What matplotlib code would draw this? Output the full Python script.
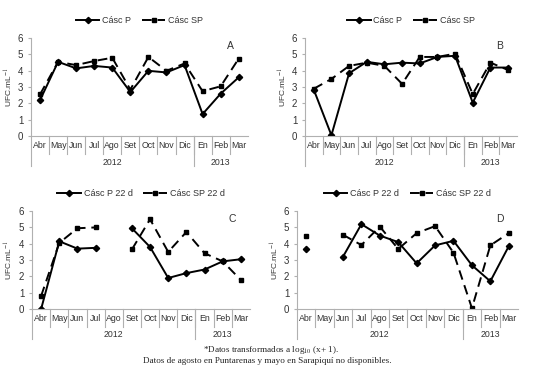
import numpy as np
import matplotlib.pyplot as plt

plt.rcParams['font.family'] = ['Liberation Sans', 'DejaVu Sans']
plt.rcParams['mathtext.fontset'] = 'stix'

months = ['Abr', 'May', 'Jun', 'Jul', 'Ago', 'Set', 'Oct', 'Nov', 'Dic', 'En', 'Feb', 'Mar']
years = ['2012', '2013']
nan = np.nan

a_p = [2.2, 4.55, 4.15, 4.3, 4.2, 2.7, 4.0, 3.9, 4.35, 1.35, 2.6, 3.6]
a_sp = [2.55, 4.55, 4.35, 4.6, 4.8, 2.85, 4.85, 4.0, 4.45, 2.75, 3.05, 4.75]

b_p = [2.85, 0.05, 3.85, 4.55, 4.4, 4.5, 4.45, 4.85, 4.92, 2.05, 4.2, 4.2]
b_sp = [2.9, 3.5, 4.3, 4.5, 4.3, 3.2, 4.85, 4.85, 5.05, 2.58, 4.5, 4.05]

c_p = [0.0, 4.15, 3.7, 3.75, nan, 4.95, 3.8, 1.9, 2.2, 2.42, 2.92, 3.05]
c_sp = [0.8, 4.05, 4.95, 5.0, nan, 3.65, 5.5, 3.5, 4.72, 3.42, 2.92, 1.78]

d_p = [3.65, nan, 3.2, 5.2, 4.5, 4.1, 2.8, 3.9, 4.18, 2.68, 1.7, 3.85]
d_sp = [4.5, nan, 4.55, 3.92, 5.05, 3.68, 4.65, 5.08, 3.45, 0.05, 3.9, 4.65]

txt = '#333333'
grid = '#b0b0b0'
W = 534


def panel(ax, p, sp, letter, lab_p, lab_sp, left_px):
    x = np.arange(len(months))
    ax.plot(x, p, '-', color='black', lw=1.4, marker='D', ms=3.2, label=lab_p)
    ax.plot(x, sp, '--', color='black', lw=1.4, marker='s', ms=3.2,
            dashes=(5, 3), label=lab_sp)
    ax.set_xlim(-0.5, 11.5)
    ax.set_ylim(0, 6)
    ax.set_yticks(range(7))
    ax.set_xticks([])
    for s in ['top', 'right']:
        ax.spines[s].set_visible(False)
    ax.spines['left'].set_color(grid)
    ax.spines['bottom'].set_color(grid)
    ax.tick_params(axis='y', colors=grid, labelcolor=txt, labelsize=7, length=2, pad=3.5)
    ax.set_ylabel('UFC.mL$^{-1}$', fontsize=6, color=txt)
    wpx = ax.get_position().width * W
    ax.yaxis.set_label_coords(-left_px / wpx, 0.5)
    tr = ax.get_xaxis_transform()
    for k in range(len(months)):
        ax.text(k, -0.1, months[k], transform=tr, ha='center', va='center',
                fontsize=6.3, color=txt)
    for k in range(1, len(months)):
        ax.plot([k - 0.5, k - 0.5], [0, -0.18], transform=tr, color=grid,
                lw=0.8, clip_on=False)
    for xs in [-0.5, 8.5]:
        ax.plot([xs, xs], [0, -0.31], transform=tr, color=grid, lw=0.8, clip_on=False)
    ax.text(4, -0.265, years[0], transform=tr, ha='center', va='center',
            fontsize=6.3, color=txt)
    ax.text(10, -0.265, years[1], transform=tr, ha='center', va='center',
            fontsize=6.3, color=txt)
    ax.text(0.92, 0.97, letter, transform=ax.transAxes, ha='center', va='top',
            fontsize=7.5, color=txt)
    ax.legend(loc='lower center', bbox_to_anchor=(0.5, 1.1), ncol=2, frameon=False,
              fontsize=6.5, handlelength=2.6, handletextpad=0.3, columnspacing=1.2,
              borderaxespad=0, labelcolor=txt)


fig = plt.figure(figsize=(5.34, 3.78), dpi=100)
ax_a = fig.add_axes([0.058, 0.640, 0.406, 0.259])
ax_b = fig.add_axes([0.571, 0.640, 0.397, 0.259])
ax_c = fig.add_axes([0.060, 0.1825, 0.408, 0.259])
ax_d = fig.add_axes([0.556, 0.1825, 0.414, 0.259])

panel(ax_a, a_p, a_sp, 'A', 'Cásc P', 'Cásc SP', 16)
panel(ax_b, b_p, b_sp, 'B', 'Cásc P', 'Cásc SP', 16)
panel(ax_c, c_p, c_sp, 'C', 'Cásc P 22 d', 'Cásc SP 22 d', 17)
panel(ax_d, d_p, d_sp, 'D', 'Cásc P 22 d', 'Cásc SP 22 d', 16)

fig.text(0.507, 1 - 350 / 378, '*Datos transformados a log$_{10}$ (x+ 1).', ha='center',
         va='center', fontsize=6.6, family='Liberation Serif', color='#222222')
fig.text(0.5, 1 - 361 / 378, 'Datos de agosto en Puntarenas y mayo en Sarapiquí no disponibles.',
         ha='center', va='center', fontsize=6.6, family='Liberation Serif', color='#222222')

fig.savefig('out.png', dpi=100)
